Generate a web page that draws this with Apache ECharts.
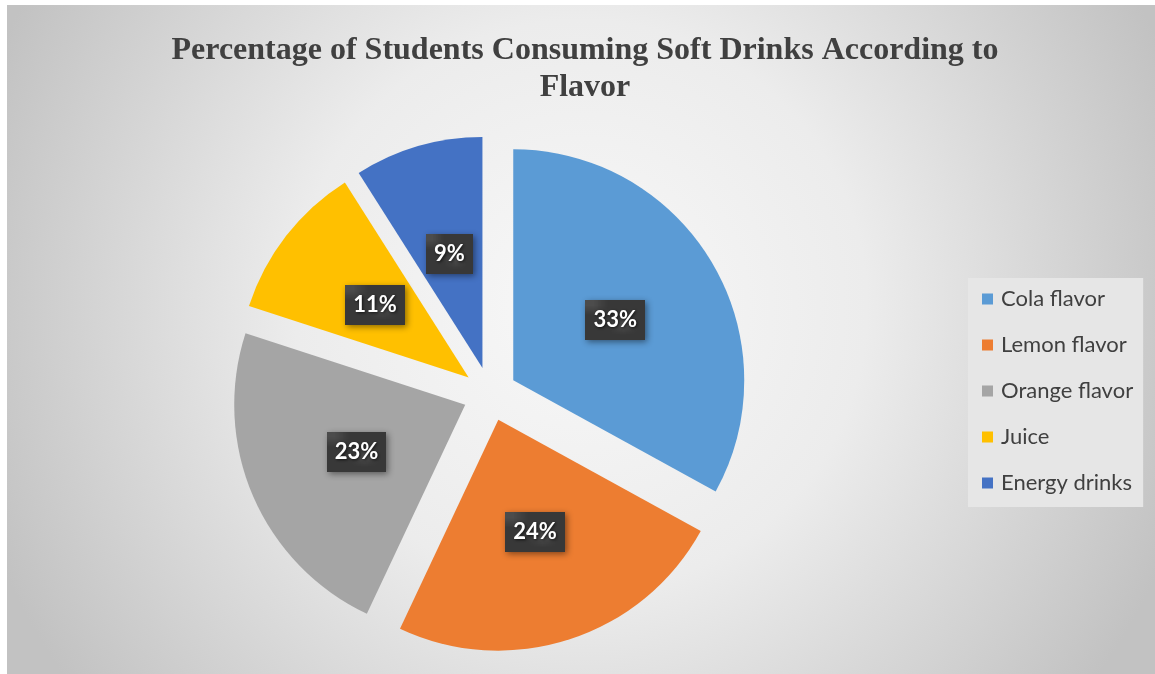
<!DOCTYPE html>
<html>
<head>
<meta charset="utf-8">
<script src="https://cdn.jsdelivr.net/npm/echarts@6/dist/echarts.min.js"></script>
<style>
  html, body { margin: 0; padding: 0; background: #ffffff; }
  #chart { width: 1155px; height: 674px; }
</style>
</head>
<body>
<div id="chart"></div>
<script>
// Soft drink preference by flavor (percent of students)
const categories = ['Cola flavor', 'Lemon flavor', 'Orange flavor', 'Juice', 'Energy drinks'];
const percentages = [33, 24, 23, 11, 9];
const sliceColors = ['#5B9BD5', '#ED7D31', '#A5A5A5', '#FFC000', '#4472C4'];
const chartTitle = 'Percentage of Students Consuming Soft Drinks According to\nFlavor';

// Small dotted texture for the dark label boxes
function makeLabelTexture() {
  const c = document.createElement('canvas');
  c.width = 4; c.height = 4;
  const g = c.getContext('2d');
  g.fillStyle = '#383838';
  g.fillRect(0, 0, 4, 4);
  g.fillStyle = '#4c4c4c';
  g.fillRect(0, 0, 1, 1);
  g.fillRect(2, 2, 1, 1);
  return c;
}
const texture = makeLabelTexture();

const chart = echarts.init(document.getElementById('chart'), null, { renderer: 'canvas' });

const pieData = categories.map((name, i) => ({
  name: name,
  value: percentages[i],
  selected: true,
  itemStyle: { color: sliceColors[i] }
}));

chart.setOption({
  animation: false,
  graphic: [{
    type: 'rect',
    z: -10,
    silent: true,
    shape: { x: 7, y: 5, width: 1148, height: 669 },
    style: {
      fill: new echarts.graphic.RadialGradient(0.5, 0.45, 0.95, [
        { offset: 0, color: '#f8f8f8' },
        { offset: 0.45, color: '#ececec' },
        { offset: 1, color: '#c2c2c2' }
      ])
    }
  }],
  title: {
    text: chartTitle,
    left: 580,
    textAlign: 'center',
    top: 27,
    textStyle: {
      fontFamily: '"Liberation Serif", "Times New Roman", serif',
      fontWeight: 'bold',
      fontSize: 32,
      lineHeight: 37,
      color: '#404040'
    }
  },
  legend: {
    orient: 'vertical',
    left: 968,
    top: 278,
    padding: [10, 10, 13, 14],
    backgroundColor: '#e6e6e6',
    icon: 'rect',
    itemWidth: 11,
    itemHeight: 11,
    itemGap: 24,
    selectedMode: false,
    data: categories,
    textStyle: {
      fontFamily: 'Lato, "Open Sans", sans-serif',
      fontSize: 22,
      lineHeight: 21.5,
      padding: [0, 0, 0, 3],
      color: '#404040'
    }
  },
  series: [{
    type: 'pie',
    center: [490, 394],
    radius: [0, 231],
    startAngle: 90,
    clockwise: true,
    selectedMode: 'multiple',
    selectedOffset: 27,
    data: pieData,
    emphasis: { disabled: true },
    label: {
      show: true,
      position: 'inside',
      formatter: '{c}%',
      color: '#ffffff',
      fontFamily: 'Lato, "Open Sans", sans-serif',
      fontWeight: 'bold',
      fontSize: 22,
      backgroundColor: { image: texture, repeat: 'repeat' },
      padding: [10, 8, 8, 8],
      textShadowColor: 'rgba(0,0,0,0.7)',
      textShadowBlur: 3,
      textShadowOffsetX: 1,
      textShadowOffsetY: 1,
      shadowColor: 'rgba(0,0,0,0.45)',
      shadowBlur: 6,
      shadowOffsetX: 2,
      shadowOffsetY: 2
    },
    labelLine: { show: false }
  }]
});
</script>
</body>
</html>
